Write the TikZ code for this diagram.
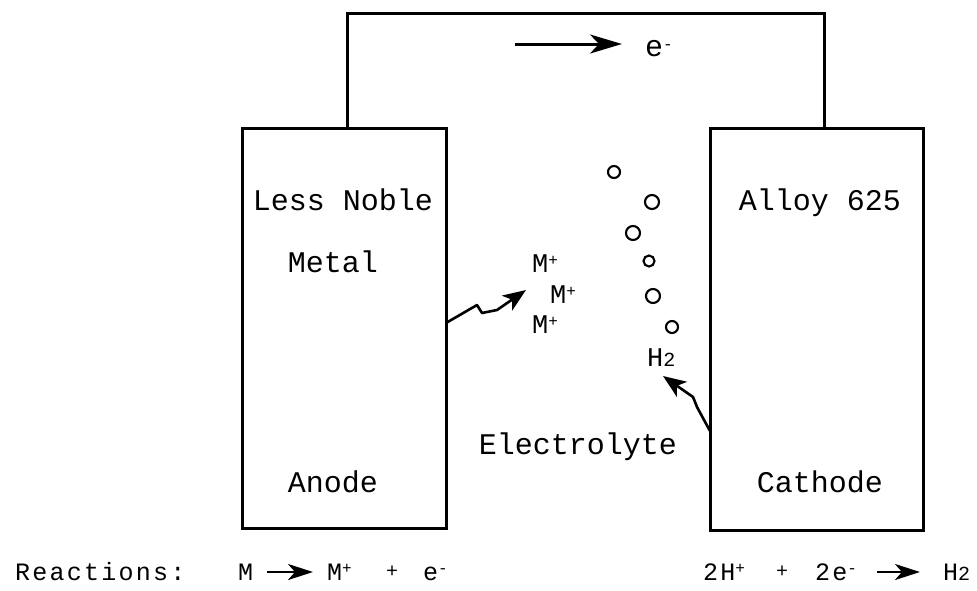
\documentclass[tikz,border=0pt]{standalone}
\usepackage{fontspec}
\newfontfamily\lmono{Liberation Mono}
\newfontfamily\rxfont[LetterSpace=9]{Liberation Mono}
\usetikzlibrary{arrows.meta}
\newcommand{\upsc}[1]{\raisebox{7pt}{\fontsize{16pt}{16pt}\selectfont #1}}
\newcommand{\lowtwo}{{\fontsize{20pt}{20pt}\selectfont 2}}
\begin{document}
\begin{tikzpicture}[x=1pt,y=-1pt,
  box/.style={draw, line width=3pt, inner sep=0pt},
  wire/.style={line width=3pt, line join=miter},
  lab/.style={font=\lmono\fontsize{30pt}{30pt}\selectfont, inner sep=0pt, anchor=base},
  ion/.style={font=\lmono\fontsize{27pt}{27pt}\selectfont, inner sep=0pt, anchor=base west},
  rx/.style={font=\rxfont\fontsize{25pt}{25pt}\selectfont, inner sep=0pt, anchor=base west},
  plus/.style={font=\lmono\fontsize{20pt}{20pt}\selectfont, inner sep=0pt, anchor=base},
  bub/.style={draw, circle, line width=2.1pt, inner sep=0pt},
  bigarrow/.style={line width=3pt, -{Stealth[length=32pt,width=19pt,inset=9pt]}},
  rxarrow/.style={line width=2.7pt, -{Stealth[length=25pt,width=16pt,inset=7pt]}},
  wavy/.style={line width=2.6pt, line join=round, -{Stealth[length=23pt,width=18pt,inset=6pt]}}
]
\useasboundingbox (0,0) rectangle (977,590);

% electrodes
\node[box, minimum width=204pt, minimum height=400pt] (anode) at (344,328) {};
\node[box, minimum width=213pt, minimum height=402pt] (cathode) at (816.5,329) {};

% external wire
\coordinate (wa) at (347,128);
\coordinate (wc) at (824,128);
\coordinate (wt) at (585,13);
\draw[wire] (wa) |- (wt) -| (wc);

% electron flow
\coordinate (es) at (515,44);
\coordinate (ee) at (622,44);
\draw[bigarrow] (es) -- (ee);
\node[lab, anchor=base west] (elec) at (645,56) {e\upsc{-}};

% labels
\node[lab] (ln) at (343,210) {Less Noble};
\node[lab] (mt) at (333,272) {Metal};
\node[lab] (an) at (333,492) {Anode};
\node[lab] (al) at (820,210) {Alloy 625};
\node[lab] (ca) at (820,492) {Cathode};
\node[lab] (el) at (578,454) {Electrolyte};

% metal ions and hydrogen
\node[ion] (m1) at (532,272) {M\upsc{+}};
\node[ion] (m2) at (550,303) {M\upsc{+}};
\node[ion] (m3) at (532,333) {M\upsc{+}};
\node[ion] (h2) at (647,366) {H\lowtwo};

% hydrogen bubbles
\node[bub, minimum size=12pt] (b1) at (614,172) {};
\node[bub, minimum size=14pt] (b2) at (652,202) {};
\node[bub, minimum size=14pt] (b3) at (633,233) {};
\node[bub, minimum size=11pt] (b4) at (649,261) {};
\node[bub, minimum size=14pt] (b5) at (653,296) {};
\node[bub, minimum size=12pt] (b6) at (672,327) {};

% wavy arrows
\coordinate (s1) at (446,323);
\coordinate (t1) at (526,290);
\draw[wavy] (s1) -- (477,305) -- (482,313) -- (497,310) -- (t1);
\coordinate (s2) at (710,431);
\coordinate (t2) at (663,376);
\draw[wavy] (s2) -- (697,407) -- (693,397) -- (683,390) -- (t2);

% reactions
\node[rx] (rlab) at (15,580) {Reactions:};
\node[rx] (rm) at (238,580) {M};
\node[rx] (rmp) at (327,580) {M\upsc{+}};
\node[plus] (rp1) at (392,577) {+};
\node[rx] (re) at (423,580) {e\upsc{-}};
\coordinate (ra1) at (267,572);
\coordinate (rb1) at (313,572);
\draw[rxarrow] (ra1) -- (rb1);

\node[rx] (r2h) at (703,580) {2H\upsc{+}};
\node[plus] (rp2) at (782,577) {+};
\node[rx] (r2e) at (815,580) {2e\upsc{-}};
\coordinate (ra2) at (877,572);
\coordinate (rb2) at (920,572);
\draw[rxarrow] (ra2) -- (rb2);
\node[rx] (rh2) at (943,580) {H\lowtwo};
\end{tikzpicture}
\end{document}
